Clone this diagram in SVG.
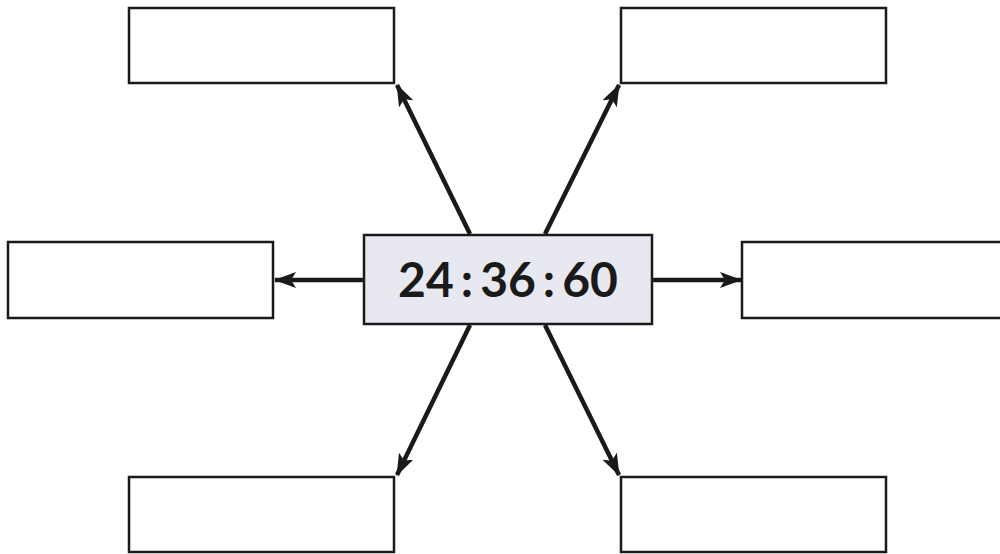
<svg xmlns="http://www.w3.org/2000/svg" width="1000" height="554" viewBox="0 0 1000 554">
<style>
.box{fill:#ffffff;stroke:#1a1a1a;stroke-width:2.5}
.center{fill:#e8e9f0;stroke:#1a1a1a;stroke-width:2.5}
.conn{stroke:#1a1a1a;stroke-width:4.5;fill:none}
.label{font-family:Lato,"Open Sans",sans-serif;font-weight:bold;font-size:48px;fill:#1a1a1a}
</style>
<defs>
<marker id="ah" viewBox="0 0 22 16" refX="21" refY="8" markerWidth="22" markerHeight="16" markerUnits="userSpaceOnUse" orient="auto">
<path d="M0,0 L22,8 L0,16 L5,8 Z" fill="#1a1a1a"/>
</marker>
</defs>
<g id="connectors">
<line class="conn" x1="470" y1="234" x2="397" y2="85" marker-end="url(#ah)"/>
<line class="conn" x1="545" y1="234" x2="619" y2="85" marker-end="url(#ah)"/>
<line class="conn" x1="364" y1="280" x2="275" y2="280" marker-end="url(#ah)"/>
<line class="conn" x1="652" y1="280" x2="741" y2="280" marker-end="url(#ah)"/>
<line class="conn" x1="470" y1="325" x2="397" y2="475" marker-end="url(#ah)"/>
<line class="conn" x1="545" y1="325" x2="619" y2="475" marker-end="url(#ah)"/>
</g>
<g id="node-center">
<rect class="center" x="364" y="235" width="288" height="89"/>
<text class="label" x="508" y="297" text-anchor="middle">24<tspan dx="7">:</tspan><tspan dx="7">36</tspan><tspan dx="7">:</tspan><tspan dx="7">60</tspan></text>
</g>
<g id="node-top-left"><rect class="box" x="129" y="8" width="265" height="75"/></g>
<g id="node-top-right"><rect class="box" x="621" y="8" width="265" height="75"/></g>
<g id="node-left"><rect class="box" x="8" y="242" width="265" height="76"/></g>
<g id="node-right"><rect class="box" x="742" y="242" width="265" height="76"/></g>
<g id="node-bottom-left"><rect class="box" x="129" y="477" width="265" height="75"/></g>
<g id="node-bottom-right"><rect class="box" x="621" y="477" width="265" height="75"/></g>
</svg>
